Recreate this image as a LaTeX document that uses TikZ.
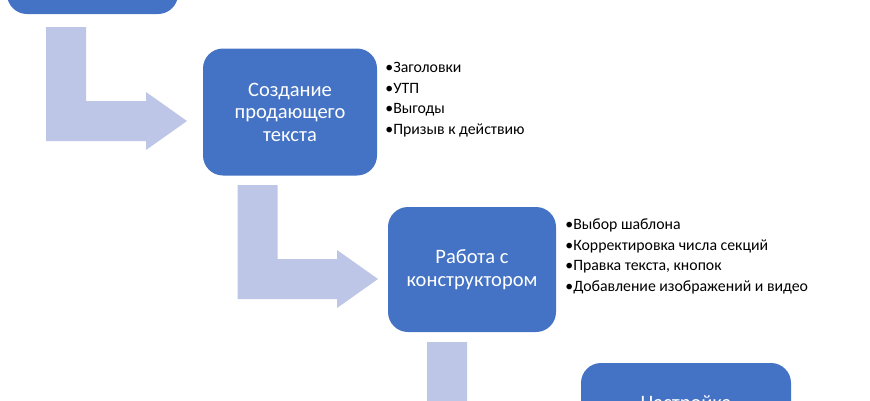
\documentclass[tikz,border=0pt]{standalone}
\usepackage{fontspec}
\setmainfont{Carlito}
\usepackage{tikz}
\usepackage{xcolor}
\usetikzlibrary{positioning,calc}

\definecolor{boxblue}{RGB}{68,114,196}
\definecolor{flowblue}{RGB}{189,198,230}

\tikzset{
    stage/.style={rounded corners=20pt,fill=boxblue,text=white,align=center,
        inner sep=0pt,font=\fontsize{20.5}{22.5}\selectfont},
    stagetext/.style={text=white,align=center,inner sep=0pt,
        font=\fontsize{20.5}{22.5}\selectfont},
    bullets/.style={align=left,inner sep=0pt,
        font=\fontsize{15.8}{20.6}\selectfont},
    flow/.style={fill=flowblue}
}

% bent block arrow: start of the shaft, tip of the head
\newcommand{\bendarrow}[2]{%
    \fill[flow] let \p1=(#1), \p2=(#2) in
        (\x1-20pt,\y1) -- (\x1+20pt,\y1) -- (\x1+20pt,\y2+20pt)
        -- (\x2-41pt,\y2+20pt) -- (\x2-41pt,\y2+29pt) -- (\x2,\y2)
        -- (\x2-41pt,\y2-29pt) -- (\x2-41pt,\y2-20pt)
        -- (\x1-20pt,\y2-20pt) -- cycle;
}

\begin{document}
\begin{tikzpicture}[x=1pt,y=-1pt]
    \useasboundingbox (0,0) rectangle (870,400);
    \clip (0,0) rectangle (870,400);

    % Stages
    \node[stage,minimum width=171pt,minimum height=125pt] (box1) at (92.5,-48.5) {};
    \node[stage,minimum width=174pt,minimum height=127pt] (box2) at (290,112)
        {Создание\\продающего\\текста};
    \node[stage,minimum width=168pt,minimum height=125pt] (box3) at (472,269.5)
        {Работа с\\конструктором};
    \node[stage,minimum width=210pt,minimum height=125pt] (box4) at (686,425.5) {};
    \node[stagetext,below=33pt of box4.north,anchor=north] (box4txt) {Настройка};

    % Bent arrows
    \coordinate (a1s) at (66,27);
    \coordinate (a1e) at (187,121);
    \coordinate (a2s) at (257.5,185);
    \coordinate (a2e) at (378,279);
    \coordinate (a3s) at (447,342);
    \coordinate (a3e) at (569,435);
    \bendarrow{a1s}{a1e}
    \bendarrow{a2s}{a2e}
    \bendarrow{a3s}{a3e}

    % Sub-steps
    \node[bullets,below right=14pt and 8pt of box2.north east] (list2)
        {\textbullet Заголовки\\\textbullet УТП\\\textbullet Выгоды\\\textbullet Призыв к действию};
    \node[bullets,below right=12pt and 9pt of box3.north east] (list3)
        {\textbullet Выбор шаблона\\\textbullet Корректировка числа секций\\\textbullet Правка текста, кнопок\\\textbullet Добавление изображений и видео};
\end{tikzpicture}
\end{document}
